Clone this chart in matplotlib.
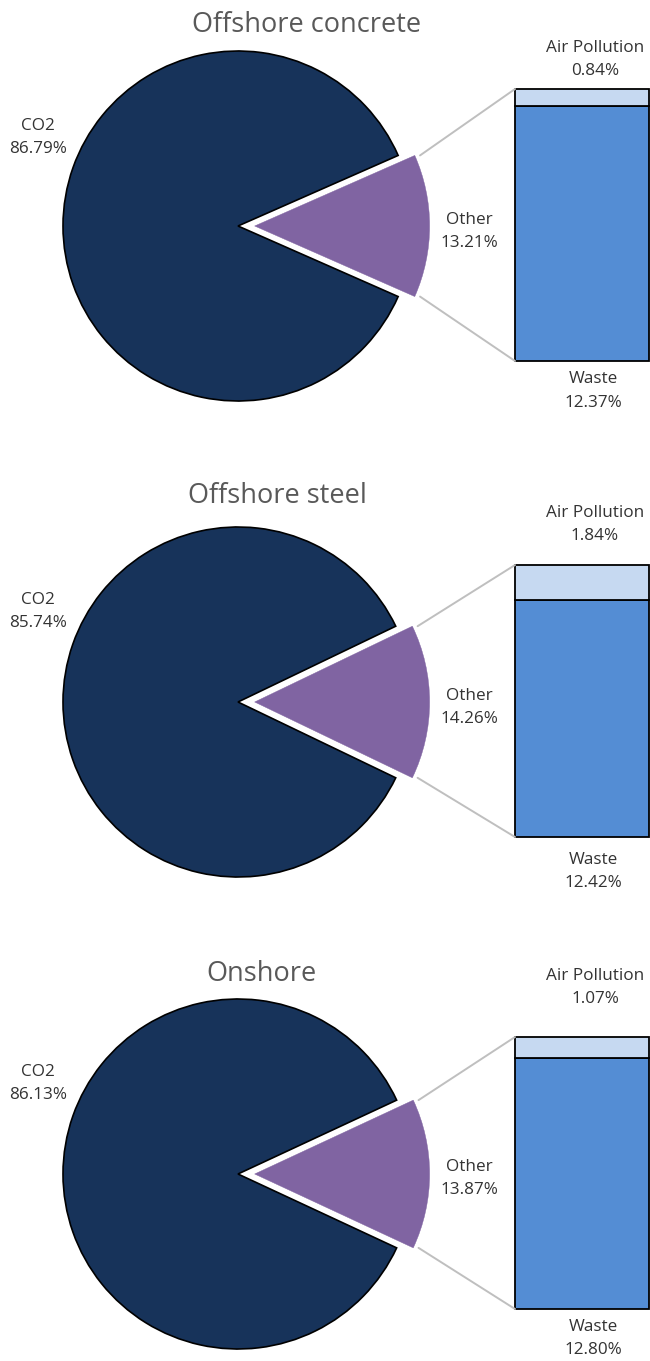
import numpy as np
import matplotlib
matplotlib.use("Agg")
import matplotlib.pyplot as plt
from matplotlib.patches import ConnectionPatch

# ---- data ----
titles = ["Offshore concrete", "Offshore steel", "Onshore"]
co2 = [86.79, 85.74, 86.13]
other = [13.21, 14.26, 13.87]
air_pollution = [0.84, 1.84, 1.07]
waste = [12.37, 12.42, 12.80]

# ---- layout (pixels) ----
W, H = 650, 1361
pie_cx = 238
pie_cy = [226, 702, 1174]
radius_px = 175
explode = 0.095
bar_left, bar_right = 515, 649
bar_top_off, bar_bot_off = -137, 135
title_xy = [(307, 32), (277, 503), (261, 981)]
co2_lab = [(38, 137.5), (38, 611.5), (38, 1083.5)]
oth_lab = [(469, 231.5), (469, 707.5), (469, 1178.5)]
air_lab = [(595, 59.5), (595, 524.5), (595, 987.5)]
wst_lab = [(593, 391), (593, 871.5), (593, 1338.5)]

C_CO2 = "#17335A"
C_OTHER = "#8064A2"
C_WASTE = "#548DD4"
C_AIR = "#C6D9F1"
C_LINE = "#BFBFBF"
C_TXT = "#333333"
C_TITLE = "#595959"
FONT = ["Open Sans", "DejaVu Sans"]

fig = plt.figure(figsize=(W / 100, H / 100), dpi=100)
fig.patch.set_facecolor("white")


def fx(x):
    return x / W


def fy(y):
    return 1 - y / H


def lab(xy, s, size=12.3, color=C_TXT):
    fig.text(fx(xy[0]), fy(xy[1]), s, ha="center", va="center",
             fontsize=size, color=color, family=FONT, linespacing=1.62)


lim = 1.3
for i in range(3):
    cy = pie_cy[i]
    half = lim * radius_px
    axp = fig.add_axes([fx(pie_cx - half), fy(cy + half), 2 * half / W, 2 * half / H])
    axp.axis("off")
    frac_other = other[i] / (other[i] + co2[i])
    start = -frac_other * 360 / 2
    wedges, _ = axp.pie([other[i], co2[i]], explode=[explode, 0], startangle=start,
                        colors=[C_OTHER, C_CO2], radius=1, center=(0, 0),
                        frame=False,
                        wedgeprops=dict(linewidth=1.0))
    axp.set_xlim(-lim, lim)
    axp.set_ylim(-lim, lim)
    axp.set_aspect("equal")
    wedges[0].set_edgecolor(C_OTHER)
    wedges[0].set_linewidth(0.3)
    wedges[1].set_edgecolor("black")
    wedges[1].set_linewidth(1.2)

    # stacked bar
    top = cy + bar_top_off
    bot = cy + bar_bot_off
    axb = fig.add_axes([fx(bar_left), fy(bot), (bar_right - bar_left) / W, (bot - top) / H])
    axb.bar([0], [waste[i]], width=1, color=C_WASTE, edgecolor="black", linewidth=1.3, clip_on=False)
    axb.bar([0], [air_pollution[i]], bottom=[waste[i]], width=1, color=C_AIR,
            edgecolor="black", linewidth=1.3, clip_on=False)
    axb.set_xlim(-0.5, 0.5)
    axb.set_ylim(0, waste[i] + air_pollution[i])
    axb.axis("off")

    # connector lines
    th = np.deg2rad(frac_other * 360 / 2)
    for sgn, ybar in [(1, waste[i] + air_pollution[i]), (-1, 0)]:
        p = (explode + np.cos(th) * 1.0 + 0.03, sgn * (np.sin(th) + 0.0))
        con = ConnectionPatch(xyA=p, coordsA=axp.transData,
                              xyB=(-0.5, ybar), coordsB=axb.transData,
                              color=C_LINE, linewidth=1.4)
        fig.add_artist(con)

    fig.text(fx(title_xy[i][0]), fy(title_xy[i][1]), titles[i], ha="center", va="baseline",
             fontsize=19.5, color=C_TITLE, family=FONT)
    lab(co2_lab[i], f"CO2\n{co2[i]:.2f}%")
    lab(oth_lab[i], f"Other\n{other[i]:.2f}%")
    lab(air_lab[i], f"Air Pollution\n{air_pollution[i]:.2f}%")
    lab(wst_lab[i], f"Waste\n{waste[i]:.2f}%")

fig.savefig("out.png", dpi=100, facecolor="white")
